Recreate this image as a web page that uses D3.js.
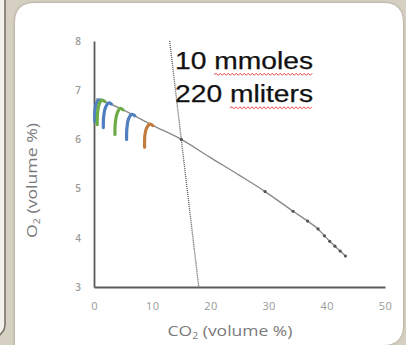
<!DOCTYPE html>
<html>
<head>
<meta charset="utf-8">
<script src="https://cdn.jsdelivr.net/npm/d3@7"></script>
<style>
  html, body { margin: 0; padding: 0; background: #d6d0c2; }
  svg { display: block; }
</style>
</head>
<body>
<svg id="chart" width="406" height="345"></svg>
<script>
// Axis ticks
const xTicks = [0, 10, 20, 30, 40, 50];
const yTicks = [3, 4, 5, 6, 7, 8];

// Blood O2–CO2 line (CO2 vol %, O2 vol %)
const lineCO2 = [0.3, 2, 5, 10, 15, 20, 25, 29.4, 34.2, 36.7, 38.5, 39.6, 40.5, 41.4, 42.3, 43.2];
const lineO2  = [6.83, 6.76, 6.6, 6.29, 6.0, 5.63, 5.27, 4.94, 4.54, 4.34, 4.18, 4.04, 3.93, 3.83, 3.73, 3.63];

// Marked points on that line
const dotCO2 = [15, 29.4, 34.2, 36.7, 38.5, 39.6, 40.5, 41.4, 42.3, 43.2];
const dotO2  = [6.0, 4.94, 4.54, 4.34, 4.18, 4.04, 3.93, 3.83, 3.73, 3.63];

// Steep dotted line
const steepCO2 = [13, 18];
const steepO2  = [8, 3];

// Coloured hook curves leaving the line
const hookColors = ["#4f7fc0", "#6cab45", "#4f7fc0", "#6cab45", "#4f7fc0", "#c27a3e"];
const hookCO2 = [
  [0.15, 0.15, 0.35, 0.8, 1.3],
  [0.55, 0.6, 0.85, 1.35, 1.85],
  [1.6, 1.65, 1.95, 2.5, 3.0],
  [3.6, 3.65, 3.95, 4.5, 5.0],
  [5.6, 5.65, 5.95, 6.5, 7.0],
  [8.7, 8.72, 9.0, 9.6, 10.1]
];
const hookO2 = [
  [6.36, 6.55, 6.72, 6.80, 6.79],
  [6.30, 6.52, 6.70, 6.80, 6.77],
  [6.24, 6.45, 6.64, 6.74, 6.72],
  [6.10, 6.32, 6.52, 6.63, 6.60],
  [6.00, 6.22, 6.42, 6.51, 6.48],
  [5.84, 6.05, 6.22, 6.31, 6.28]
];

const noteLines = ["10 mmoles", "220 mliters"];
const noteFlagged = ["mmoles", "mliters"];
const xTitle = "CO";
const yTitle = "O";

const svg = d3.select("#chart");

// ---- slide backdrop ----
const defs = svg.append("defs");
const sh = defs.append("filter").attr("id", "shadow").attr("x", "-10%").attr("y", "-10%").attr("width", "120%").attr("height", "120%");
sh.append("feDropShadow").attr("dx", 0).attr("dy", 0).attr("stdDeviation", 1.6).attr("flood-color", "#6b6250").attr("flood-opacity", 0.55);

svg.append("rect").attr("width", 406).attr("height", 345).attr("fill", "#d6d0c2");
// neighbouring panel on the left
svg.append("rect").attr("x", -30).attr("y", -20).attr("width", 35).attr("height", 358).attr("rx", 14)
  .attr("fill", "#f3f1ec").attr("stroke", "#7a7468").attr("stroke-width", 1.6);
// main white panel: rounded top corners and bottom-right corner
const px0 = 15, py0 = 3, px1 = 403, py1 = 345, r = 20;
svg.append("path")
  .attr("d", `M${px0},${py1 + 10} V${py0 + r} Q${px0},${py0} ${px0 + r},${py0} H${px1 - r} Q${px1},${py0} ${px1},${py0 + r} V${py1 - r} Q${px1},${py1} ${px1 - r},${py1} V${py1 + 10} Z`)
  .attr("fill", "#ffffff").attr("filter", "url(#shadow)");

// ---- scales ----
const x = d3.scaleLinear().domain([0, 50]).range([94, 385]);
const y = d3.scaleLinear().domain([3, 8]).range([287, 41]);

// ---- axes ----
const gx = svg.append("g").attr("transform", `translate(0,${y(3)})`)
  .call(d3.axisBottom(x).tickValues(xTicks).tickFormat(d3.format("d")).tickSize(0).tickPadding(15));
const gy = svg.append("g").attr("transform", `translate(${x(0)},0)`)
  .call(d3.axisLeft(y).tickValues(yTicks).tickFormat(d3.format("d")).tickSize(0).tickPadding(13));
[gx, gy].forEach(g => {
  g.select(".domain").attr("stroke", "#5a5a5a").attr("stroke-width", 1.8);
  g.selectAll("text").attr("fill", "#9a9a9a").attr("font-family", "'Open Sans', sans-serif");
});
gx.selectAll("text").attr("font-size", 11).attr("letter-spacing", 0.4);
gy.selectAll("text").attr("font-size", 10).attr("font-weight", 600);

// ---- steep dotted line ----
svg.append("line")
  .attr("x1", x(steepCO2[0])).attr("y1", y(steepO2[0]))
  .attr("x2", x(steepCO2[1])).attr("y2", y(steepO2[1]))
  .attr("stroke", "#555").attr("stroke-width", 1.3).attr("stroke-dasharray", "1,1");

// ---- main line ----
const lineData = lineCO2.map((c, i) => [c, lineO2[i]]);
svg.append("path").datum(lineData)
  .attr("d", d3.line().x(d => x(d[0])).y(d => y(d[1])).curve(d3.curveMonotoneX))
  .attr("fill", "none").attr("stroke", "#8a8a8a").attr("stroke-width", 1.4);

svg.selectAll("circle.dot").data(dotCO2.map((c, i) => [c, dotO2[i]])).enter()
  .append("circle").attr("class", "dot")
  .attr("cx", d => x(d[0])).attr("cy", d => y(d[1])).attr("r", 1.6)
  .attr("fill", "#555");

// ---- hooks ----
const hookLine = d3.line().x(d => x(d[0])).y(d => y(d[1])).curve(d3.curveCatmullRom);
hookCO2.forEach((cs, k) => {
  svg.append("path").datum(cs.map((c, i) => [c, hookO2[k][i]]))
    .attr("d", hookLine).attr("fill", "none")
    .attr("stroke", hookColors[k]).attr("stroke-width", 3.2)
    .attr("stroke-linecap", "round").attr("stroke-linejoin", "round");
});

// ---- annotation ----
const baselines = [68.5, 102];
noteLines.forEach((t, i) => {
  const txt = svg.append("text")
    .attr("x", 175).attr("y", baselines[i])
    .attr("font-family", "'Liberation Sans', Arial, sans-serif")
    .attr("font-size", 23).attr("fill", "#111")
    .attr("stroke", "#111").attr("stroke-width", 0.25)
    .attr("textLength", 138).attr("lengthAdjust", "spacingAndGlyphs")
    .text(t);
  // red wavy spell-check underline below the flagged word
  const node = txt.node();
  const start = t.indexOf(noteFlagged[i]);
  const xs = node.getStartPositionOfChar(start).x;
  const xe = node.getEndPositionOfChar(t.length - 1).x;
  const uy = baselines[i] + 6;
  let d = `M${xs},${uy}`;
  let up = true;
  for (let xx = xs + 2; xx <= xe + 0.1; xx += 2) {
    d += ` L${xx},${uy + (up ? -1.2 : 0.8)}`;
    up = !up;
  }
  svg.append("path").attr("d", d).attr("fill", "none")
    .attr("stroke", "#e0454a").attr("stroke-width", 1);
});

// ---- axis titles (stretched to the slide's width) ----
function title(g, main, fs, target) {
  const t = g.append("text").attr("text-anchor", "middle")
    .attr("font-family", "'Open Sans', sans-serif").attr("font-size", fs)
    .attr("fill", "#7a7a7a");
  t.append("tspan").text(main);
  t.append("tspan").attr("font-size", fs * 0.6).attr("dy", 3).text("2");
  t.append("tspan").attr("dy", -3).text(" (volume %)");
  const w = t.node().getComputedTextLength();
  t.attr("transform", `scale(${target / w},1)`);
}
title(svg.append("g").attr("transform", "translate(230,336)"), xTitle, 15, 125);
title(svg.append("g").attr("transform", "translate(37,180.5) rotate(-90)"), yTitle, 15, 115);
</script>
</body>
</html>
